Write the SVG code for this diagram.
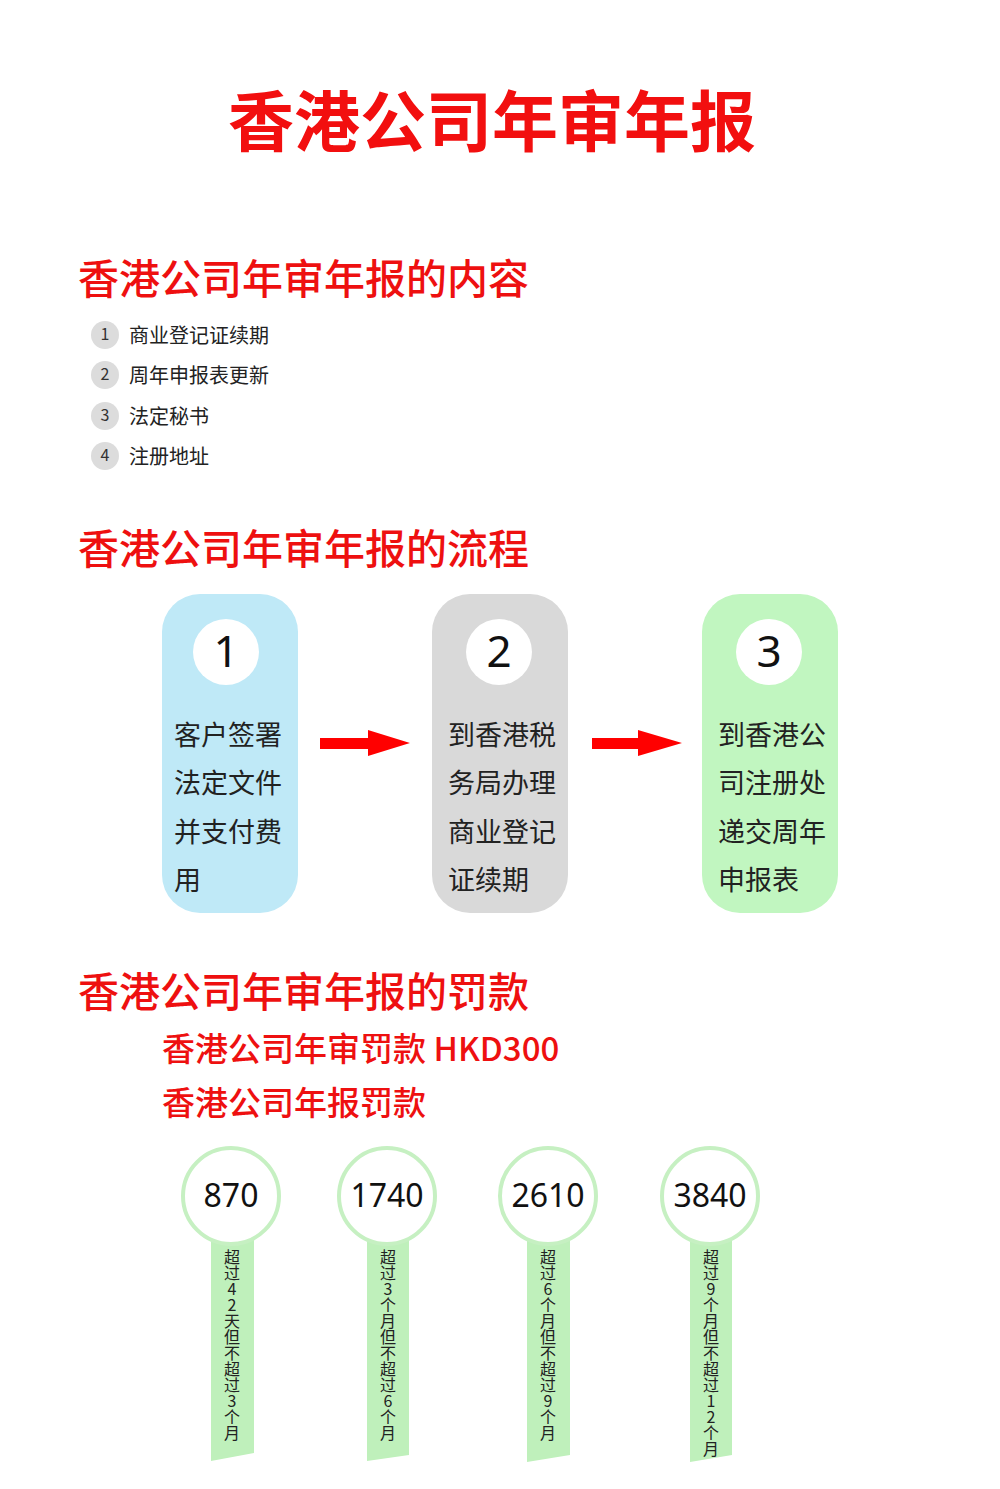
<svg xmlns="http://www.w3.org/2000/svg" width="1000" height="1489" viewBox="0 0 1000 1489">
<style>
.cjk{font-family:"Noto Sans CJK SC","Noto Sans",sans-serif}
.title{font-size:66px;font-weight:bold;fill:#f20f0f}
.h{font-size:41px;font-weight:500;fill:#ee1010}
.sub{font-size:33px;font-weight:500;fill:#ee1010}
.li{font-size:20px;fill:#222}
.lin{font-size:16px;fill:#333;text-anchor:middle}
.num{font-family:"Noto Sans","Open Sans",sans-serif;font-size:44px;fill:#111;text-anchor:middle}
.step{font-size:27px;fill:#222}
.pen{font-family:"Noto Sans","Open Sans",sans-serif;font-size:32px;fill:#111;text-anchor:middle}
.v{font-size:16px;fill:#222;writing-mode:vertical-rl;text-orientation:upright}
.tcy{text-combine-upright:all}
.ribbon{fill:#bff0bb}
.pc{fill:#fff;stroke:#c6f0c2;stroke-width:4}
.arrow{fill:#f00}
</style>
<rect width="1000" height="1489" fill="#fff"/>
<text class="cjk title" x="228" y="146">香港公司年审年报</text>

<g id="section-content">
<text class="cjk h" x="78" y="294">香港公司年审年报的内容</text>
<g id="item1"><circle cx="105" cy="335" r="14" fill="#dcdcdc"/><text class="cjk lin" x="105" y="340">1</text><text class="cjk li" x="129" y="343">商业登记证续期</text></g>
<g id="item2"><circle cx="105" cy="375" r="14" fill="#dcdcdc"/><text class="cjk lin" x="105" y="380">2</text><text class="cjk li" x="129" y="383">周年申报表更新</text></g>
<g id="item3"><circle cx="105" cy="416" r="14" fill="#dcdcdc"/><text class="cjk lin" x="105" y="421">3</text><text class="cjk li" x="129" y="424">法定秘书</text></g>
<g id="item4"><circle cx="105" cy="456" r="14" fill="#dcdcdc"/><text class="cjk lin" x="105" y="461">4</text><text class="cjk li" x="129" y="464">注册地址</text></g>
</g>

<text class="cjk h" x="78" y="564">香港公司年审年报的流程</text>

<g id="step1">
<rect x="162" y="594" width="136" height="319" rx="38" fill="#bfe9f7"/>
<circle cx="226" cy="652" r="33" fill="#fff"/>
<text class="num" x="226" y="667">1</text>
<text class="cjk step" x="174" y="745">客户签署</text>
<text class="cjk step" x="174" y="793">法定文件</text>
<text class="cjk step" x="174" y="842">并支付费</text>
<text class="cjk step" x="174" y="890">用</text>
</g>
<g id="step2">
<rect x="432" y="594" width="136" height="319" rx="38" fill="#d9d9d9"/>
<circle cx="499" cy="652" r="33" fill="#fff"/>
<text class="num" x="499" y="667">2</text>
<text class="cjk step" x="448" y="745">到香港税</text>
<text class="cjk step" x="448" y="793">务局办理</text>
<text class="cjk step" x="448" y="842">商业登记</text>
<text class="cjk step" x="448" y="890">证续期</text>
</g>
<g id="step3">
<rect x="702" y="594" width="136" height="319" rx="38" fill="#c1f6c0"/>
<circle cx="769" cy="652" r="33" fill="#fff"/>
<text class="num" x="769" y="667">3</text>
<text class="cjk step" x="718" y="745">到香港公</text>
<text class="cjk step" x="718" y="793">司注册处</text>
<text class="cjk step" x="718" y="842">递交周年</text>
<text class="cjk step" x="718" y="890">申报表</text>
</g>
<g id="connectors">
<polygon class="arrow" points="320,738 368,738 368,730 410,743 368,756 368,749 320,749"/>
<polygon class="arrow" points="592,738 638,738 638,730 682,743 638,756 638,749 592,749"/>
</g>

<text class="cjk h" x="78" y="1007">香港公司年审年报的罚款</text>
<text class="cjk sub" x="162" y="1061">香港公司年审罚款 HKD300</text>
<text class="cjk sub" x="162" y="1115">香港公司年报罚款</text>

<g id="penalty1">
<polygon class="ribbon" points="211,1236 254,1236 254,1453 211,1461"/>
<circle class="pc" cx="231" cy="1196" r="48"/>
<text class="pen" x="231" y="1207">870</text>
<text class="cjk v" x="232" y="1249">超过<tspan class="tcy">42</tspan>天但不超过3个月</text>
</g>
<g id="penalty2">
<polygon class="ribbon" points="367,1236 409,1236 409,1455 367,1461"/>
<circle class="pc" cx="387" cy="1196" r="48"/>
<text class="pen" x="387" y="1207">1740</text>
<text class="cjk v" x="388" y="1249">超过3个月但不超过6个月</text>
</g>
<g id="penalty3">
<polygon class="ribbon" points="527,1236 570,1236 570,1455 527,1462"/>
<circle class="pc" cx="548" cy="1196" r="48"/>
<text class="pen" x="548" y="1207">2610</text>
<text class="cjk v" x="548" y="1249">超过6个月但不超过9个月</text>
</g>
<g id="penalty4">
<polygon class="ribbon" points="690,1236 732,1236 732,1455 690,1462"/>
<circle class="pc" cx="710" cy="1196" r="48"/>
<text class="pen" x="710" y="1207">3840</text>
<text class="cjk v" x="711" y="1249">超过9个月但不超过<tspan class="tcy">12</tspan>个月</text>
</g>
</svg>
